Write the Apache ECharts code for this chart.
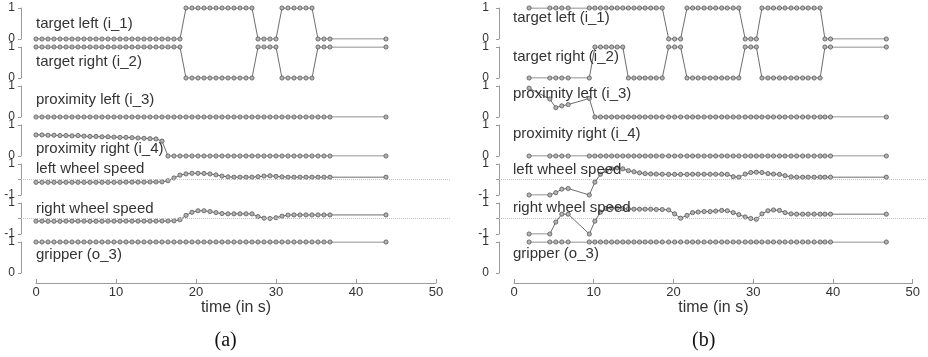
<!DOCTYPE html>
<html>
<head>
<meta charset="utf-8">
<script src="https://cdn.jsdelivr.net/npm/echarts@6/dist/echarts.min.js"></script>
<style>
html,body{margin:0;padding:0;background:#fff;}
#chart{width:928px;height:357px;}
</style>
</head>
<body>
<div id="chart"></div>
<script>
// ---------- DATA ----------
const rowLabels = ["target left (i_1)", "target right (i_2)", "proximity left (i_3)", "proximity right (i_4)", "left wheel speed", "right wheel speed", "gripper (o_3)"];
const timeTicks = [0, 10, 20, 30, 40, 50];
const panelLetters = ["(a)", "(b)"];
const axisTitle = "time (in s)";

// panel (a)
const timesA = [0,0.75,1.5,2.25,3,3.75,4.5,5.25,6,6.75,7.5,8.25,9,9.75,10.5,11.25,12,12.75,13.5,14.25,15,15.75,16.5,17.25,18,18.75,19.5,20.25,21,21.75,22.5,23.25,24,24.75,25.5,26.25,27,27.75,28.5,29.25,30,30.75,31.5,32.25,33,33.75,34.5,35.25,36,36.75,43.75];
const targetLeftA  = [0,0,0,0,0,0,0,0,0,0,0,0,0,0,0,0,0,0,0,0,0,0,0,0,0, 1,1,1,1,1,1,1,1,1,1,1,1, 0,0,0,0, 1,1,1,1,1,1, 0,0,0,0];
const targetRightA = [1,1,1,1,1,1,1,1,1,1,1,1,1,1,1,1,1,1,1,1,1,1,1,1,1, 0,0,0,0,0,0,0,0,0,0,0,0, 1,1,1,1, 0,0,0,0,0,0, 1,1,1,1];
const proxLeftA    = [0,0,0,0,0,0,0,0,0,0,0,0,0,0,0,0,0,0,0,0,0,0,0,0,0,0,0,0,0,0,0,0,0,0,0,0,0,0,0,0,0,0,0,0,0,0,0,0,0,0,0];
const proxRightA   = [0.68,0.68,0.67,0.67,0.66,0.66,0.65,0.66,0.64,0.63,0.63,0.62,0.62,0.61,0.6,0.6,0.59,0.58,0.57,0.56,0.55,0.48, 0,0,0,0,0,0,0,0,0,0,0,0,0,0,0,0,0,0,0,0,0,0,0,0,0,0,0,0,0];
const leftWheelA   = [-0.18,-0.18,-0.18,-0.18,-0.18,-0.18,-0.18,-0.18,-0.18,-0.18,-0.18,-0.18,-0.18,-0.18,-0.18,-0.17,-0.17,-0.17,-0.17,-0.16,-0.16,-0.15,-0.08,0.1,0.28,0.36,0.4,0.4,0.39,0.36,0.3,0.22,0.17,0.15,0.15,0.15,0.15,0.18,0.22,0.24,0.2,0.17,0.15,0.15,0.15,0.15,0.15,0.15,0.15,0.15,0.15];
const rightWheelA  = [-0.17,-0.17,-0.18,-0.18,-0.18,-0.17,-0.17,-0.17,-0.17,-0.18,-0.18,-0.18,-0.17,-0.17,-0.17,-0.17,-0.17,-0.17,-0.17,-0.17,-0.17,-0.16,-0.16,-0.15,-0.08,0.2,0.4,0.5,0.5,0.45,0.38,0.32,0.3,0.3,0.3,0.3,0.3,0.12,0.02,0,0.05,0.15,0.22,0.23,0.23,0.23,0.23,0.23,0.23,0.23,0.23];
const gripperA     = [1,1,1,1,1,1,1,1,1,1,1,1,1,1,1,1,1,1,1,1,1,1,1,1,1,1,1,1,1,1,1,1,1,1,1,1,1,1,1,1,1,1,1,1,1,1,1,1,1,1,1];

// panel (b)
const timesB = [1.9,4.5,5.25,6.0,6.8,9.45,10.15,10.85,11.55,12.25,12.95,13.65,14.35,15.05,15.75,16.45,17.15,17.85,18.6,19.4,20.15,20.9,21.7,22.4,23.1,23.85,24.6,25.3,26.05,26.75,27.5,28.2,29.0,29.7,30.4,31.1,31.85,32.55,33.3,34.0,34.75,35.45,36.2,36.9,37.65,38.4,39.0,39.7,46.7];
const targetLeftB  = [1,1,1,1,1,1,1,1,1,1,1,1,1,1,1,1,1,1,1, 0,0,0, 1,1,1,1,1,1,1,1,1,1, 0,0,0, 1,1,1,1,1,1,1,1,1,1,1, 0,0,0];
const targetRightB = [0,0,0,0,0,0, 1,1,1,1,1,1, 0,0,0,0,0,0,0, 1,1,1, 0,0,0,0,0,0,0,0,0,0, 1,1,1, 0,0,0,0,0,0,0,0,0,0,0, 1,1,1];
const proxLeftB    = [0.93,0.58,0.3,0.36,0.4,0.6, 0,0,0,0,0,0,0,0,0,0,0,0,0,0,0,0,0,0,0,0,0,0,0,0,0,0,0,0,0,0,0,0,0,0,0,0,0,0,0,0,0,0,0];
const proxRightB   = [0,0,0,0,0,0,0,0,0,0,0,0,0,0,0,0,0,0,0,0,0,0,0,0,0,0,0,0,0,0,0,0,0,0,0,0,0,0,0,0,0,0,0,0,0,0,0,0,0];
const leftWheelB   = [-1,-1,-0.85,-0.62,-0.58,-1,-0.17,0.34,0.57,0.69,0.75,0.69,0.57,0.5,0.43,0.38,0.36,0.35,0.34,0.33,0.33,0.33,0.33,0.34,0.34,0.34,0.34,0.34,0.34,0.33,0.18,0.15,0.35,0.45,0.47,0.45,0.38,0.35,0.33,0.25,0.17,0.15,0.15,0.15,0.15,0.15,0.15,0.15,0.15];
const rightWheelB  = [-1,-1,-0.23,0.28,0.28,-1,-0.17,0.41,0.65,0.69,0.66,0.64,0.62,0.6,0.6,0.6,0.6,0.58,0.58,0.55,0.3,0.02,0.2,0.38,0.42,0.45,0.45,0.48,0.52,0.5,0.38,0.25,0.1,0,-0.05,0.3,0.5,0.55,0.52,0.38,0.3,0.28,0.28,0.28,0.28,0.28,0.28,0.28,0.28];
const gripperB     = [1,1,1,1,1,1,1,1,1,1,1,1,1,1,1,1,1,1,1,1,1,1,1,1,1,1,1,1,1,1,1,1,1,1,1,1,1,1,1,1,1,1,1,1,1,1,1,1,1];

// ---------- LAYOUT ----------
const rowTops = [8, 47, 86, 125, 164, 203, 242];
const rowH = 31;
const xMin = -1.875, xMax = 51.75;
const panels = [
  { times: timesA, rows: [targetLeftA, targetRightA, proxLeftA, proxRightA, leftWheelA, rightWheelA, gripperA],
    left: 21, width: 429, axisLeft: 36, axisWidth: 400, labelMargin: 6, textX: 36,
    textY: [24.5, 63, 101, 150, 170, 210, 255.5], letterX: 227.5 },
  { times: timesB, rows: [targetLeftB, targetRightB, proxLeftB, proxRightB, leftWheelB, rightWheelB, gripperB],
    left: 499, width: 427.6, axisLeft: 514, axisWidth: 398.7, labelMargin: 10, textX: 513,
    textY: [18.5, 57.5, 94.5, 135, 170.5, 209, 255], letterX: 705 }
];
const isWheel = [false, false, false, false, true, true, false];

const FONT = '"Liberation Sans", Arial, Helvetica, sans-serif';
const grid = [], xAxis = [], yAxis = [], series = [], graphic = [];

panels.forEach((p, pi) => {
  for (let r = 0; r < 7; r++) {
    const gi = grid.length;
    grid.push({ left: p.left, top: rowTops[r], width: p.width, height: rowH, containLabel: false });
    xAxis.push({ gridIndex: gi, type: 'value', min: xMin, max: xMax, show: false,
      axisLine: { onZero: false } });
    const wheel = isWheel[r];
    yAxis.push({
      gridIndex: gi, type: 'value', min: wheel ? -1 : 0, max: 1, interval: 1, position: 'left',
      axisLine: { show: true, onZero: false, lineStyle: { color: '#9a9a9a', width: 1 } },
      axisTick: { show: true, inside: false, length: 3, lineStyle: { color: '#9a9a9a' } },
      axisLabel: { show: true, margin: p.labelMargin, fontSize: 12, color: '#333', fontFamily: FONT,
        formatter: v => (v === 0 && wheel) ? '' : String(v) },
      splitLine: { show: false }
    });
    const s = {
      type: 'line', xAxisIndex: gi, yAxisIndex: gi,
      data: p.times.map((t, i) => [t, p.rows[r][i]]),
      symbol: 'circle', symbolSize: 4.2, showSymbol: true,
      lineStyle: { color: '#6e6e6e', width: 1 },
      itemStyle: { color: '#b4b4b4', borderColor: '#555', borderWidth: 0.8 },
      animation: false, silent: true, z: 3
    };
    if (wheel) {
      s.markLine = { symbol: 'none', silent: true, animation: false, label: { show: false },
        lineStyle: { type: 'dotted', color: '#c4c4c4', width: 1 }, data: [{ yAxis: 0 }] };
    }
    series.push(s);
    graphic.push({ type: 'text', left: p.textX, top: p.textY[r] - 8.5, z: 10,
      style: { text: rowLabels[r], font: '15px ' + FONT, fill: '#333' } });
  }
  // bottom time axis
  const gi = grid.length;
  grid.push({ left: p.axisLeft, top: 282, width: p.axisWidth, height: 1 });
  xAxis.push({ gridIndex: gi, type: 'value', min: timeTicks[0], max: timeTicks[timeTicks.length - 1], interval: 10,
    position: 'bottom',
    axisLine: { show: true, onZero: false, lineStyle: { color: '#9a9a9a', width: 1 } },
    axisTick: { show: true, inside: true, length: 4, lineStyle: { color: '#9a9a9a' } },
    axisLabel: { show: true, margin: 3, fontSize: 13, color: '#333', fontFamily: FONT },
    splitLine: { show: false },
    name: axisTitle, nameLocation: 'middle', nameGap: 16,
    nameTextStyle: { fontSize: 16, color: '#333', fontFamily: FONT, verticalAlign: 'top' } });
  yAxis.push({ gridIndex: gi, type: 'value', show: false, min: 0, max: 1 });
  graphic.push({ type: 'text', left: p.letterX - 13, top: 331, z: 10,
    style: { text: panelLetters[pi], font: '20px "Liberation Serif", "Times New Roman", serif', fill: '#111' } });
});

const chart = echarts.init(document.getElementById('chart'), null, { renderer: 'canvas' });
chart.setOption({ animation: false, backgroundColor: '#fff', grid, xAxis, yAxis, series, graphic });
</script>
</body>
</html>
